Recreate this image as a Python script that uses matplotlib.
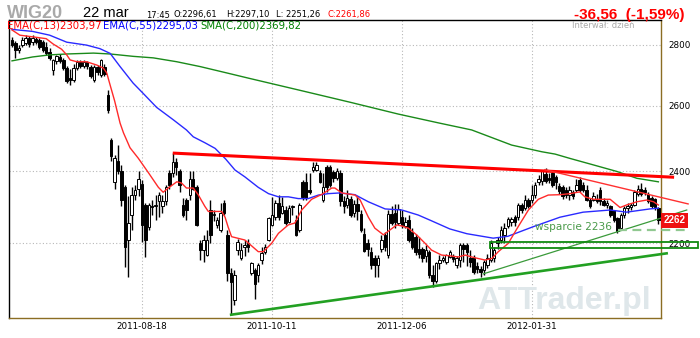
import matplotlib
matplotlib.use("Agg")
import matplotlib.pyplot as plt
import matplotlib.transforms as mtransforms
from matplotlib.patches import Rectangle
from matplotlib.ticker import NullLocator
import pandas as pd

# --- dane ---
holidays = ["2011-08-15", "2011-11-01", "2011-11-11", "2011-12-26", "2012-01-06"]
dates = pd.bdate_range("2011-06-24", "2012-03-22", freq="C", holidays=holidays)

opens = [2815, 2805, 2781, 2798, 2805, 2822, 2808, 2818, 2815, 2808,
         2791, 2775, 2715, 2745, 2758, 2748, 2721, 2690, 2682, 2721,
         2741, 2728, 2741, 2725, 2682, 2725, 2698, 2725, 2633, 2493,
         2370, 2430, 2400, 2354, 2208, 2276, 2332, 2350, 2364, 2304,
         2243, 2300, 2300, 2315, 2300, 2315, 2396, 2396, 2428, 2400,
         2304, 2318, 2332, 2378, 2354, 2200, 2181, 2168, 2290, 2275,
         2249, 2235, 2310, 2222, 2122, 2053, 2181, 2160, 2190, 2200,
         2120, 2129, 2116, 2155, 2176, 2208, 2249, 2270, 2310, 2283,
         2290, 2258, 2297, 2262, 2235, 2370, 2368, 2346, 2404, 2404,
         2396, 2318, 2412, 2412, 2398, 2382, 2396, 2315, 2304, 2322,
         2283, 2308, 2280, 2225, 2200, 2176, 2160, 2142, 2185, 2222,
         2168, 2280, 2283, 2255, 2270, 2245, 2262, 2230, 2215, 2185,
         2185, 2165, 2176, 2116, 2100, 2146, 2155, 2150, 2163, 2165,
         2142, 2155, 2195, 2195, 2160, 2160, 2140, 2132, 2129, 2142,
         2155, 2160, 2200, 2208, 2222, 2245, 2258, 2270, 2270, 2304,
         2295, 2318, 2318, 2332, 2368, 2372, 2392, 2382, 2396, 2385,
         2357, 2354, 2346, 2332, 2340, 2346, 2375, 2361, 2346, 2318,
         2318, 2322, 2346, 2315, 2304, 2300, 2290, 2268, 2240, 2276,
         2295, 2298, 2304, 2335, 2350, 2346, 2335, 2325, 2322, 2296.61]

highs = [2825, 2812, 2798, 2825, 2832, 2829, 2832, 2825, 2822, 2815,
         2808, 2788, 2751, 2765, 2768, 2755, 2728, 2718, 2735, 2748,
         2748, 2748, 2745, 2731, 2731, 2731, 2751, 2735, 2650, 2500,
         2448, 2478, 2420, 2360, 2330, 2354, 2361, 2400, 2375, 2310,
         2310, 2318, 2332, 2340, 2332, 2361, 2404, 2454, 2440, 2407,
         2325, 2325, 2400, 2400, 2361, 2208, 2222, 2235, 2318, 2290,
         2270, 2310, 2318, 2235, 2135, 2129, 2210, 2200, 2208, 2210,
         2150, 2135, 2146, 2190, 2198, 2272, 2326, 2318, 2332, 2326,
         2300, 2304, 2304, 2276, 2310, 2375, 2396, 2396, 2428, 2428,
         2404, 2396, 2419, 2419, 2404, 2410, 2404, 2330, 2346, 2330,
         2318, 2330, 2290, 2240, 2210, 2190, 2168, 2168, 2222, 2230,
         2290, 2300, 2308, 2308, 2290, 2270, 2276, 2240, 2225, 2215,
         2190, 2195, 2181, 2142, 2150, 2168, 2165, 2172, 2181, 2172,
         2165, 2200, 2200, 2200, 2181, 2168, 2150, 2140, 2155, 2172,
         2208, 2190, 2215, 2245, 2255, 2272, 2272, 2276, 2310, 2310,
         2332, 2325, 2361, 2370, 2390, 2404, 2410, 2395, 2404, 2390,
         2365, 2361, 2354, 2357, 2346, 2378, 2385, 2368, 2361, 2325,
         2340, 2335, 2354, 2325, 2318, 2304, 2290, 2272, 2283, 2300,
         2310, 2310, 2346, 2361, 2365, 2354, 2340, 2330, 2325, 2297.10]

lows = [2791, 2755, 2771, 2791, 2798, 2791, 2798, 2802, 2785, 2775,
        2765, 2748, 2698, 2735, 2738, 2715, 2672, 2665, 2675, 2715,
        2721, 2721, 2718, 2688, 2675, 2698, 2692, 2695, 2578, 2430,
        2350, 2392, 2300, 2137, 2110, 2235, 2318, 2330, 2203, 2163,
        2235, 2276, 2262, 2270, 2283, 2304, 2350, 2385, 2390, 2340,
        2270, 2262, 2318, 2346, 2245, 2155, 2150, 2165, 2200, 2260,
        2240, 2230, 2276, 2100, 2016, 2040, 2168, 2155, 2165, 2175,
        2116, 2055, 2098, 2145, 2172, 2205, 2245, 2262, 2262, 2280,
        2249, 2255, 2276, 2220, 2230, 2318, 2318, 2335, 2398, 2400,
        2365, 2312, 2340, 2355, 2370, 2375, 2300, 2283, 2295, 2270,
        2270, 2262, 2230, 2175, 2165, 2132, 2112, 2110, 2175, 2180,
        2160, 2250, 2240, 2250, 2240, 2240, 2203, 2185, 2168, 2160,
        2150, 2150, 2108, 2086, 2095, 2132, 2150, 2145, 2160, 2150,
        2135, 2137, 2150, 2140, 2137, 2118, 2120, 2112, 2116, 2135,
        2150, 2150, 2185, 2200, 2200, 2240, 2245, 2245, 2262, 2283,
        2290, 2295, 2310, 2325, 2361, 2361, 2365, 2365, 2355, 2350,
        2335, 2320, 2325, 2318, 2322, 2340, 2340, 2340, 2315, 2295,
        2315, 2310, 2304, 2300, 2295, 2270, 2258, 2228, 2240, 2268,
        2283, 2290, 2300, 2330, 2330, 2332, 2310, 2295, 2290, 2251.26]

closes = [2798, 2781, 2788, 2815, 2822, 2802, 2822, 2808, 2791, 2781,
          2770, 2755, 2748, 2760, 2745, 2721, 2678, 2682, 2721, 2741,
          2728, 2741, 2728, 2695, 2725, 2708, 2748, 2702, 2586, 2445,
          2440, 2400, 2318, 2190, 2255, 2332, 2346, 2378, 2249, 2208,
          2304, 2297, 2304, 2332, 2315, 2354, 2361, 2428, 2412, 2361,
          2276, 2290, 2378, 2350, 2249, 2181, 2208, 2208, 2222, 2280,
          2262, 2283, 2283, 2122, 2097, 2116, 2203, 2181, 2195, 2190,
          2146, 2093, 2142, 2173, 2190, 2268, 2276, 2310, 2270, 2300,
          2255, 2295, 2300, 2222, 2304, 2326, 2325, 2340, 2412, 2419,
          2370, 2354, 2354, 2361, 2382, 2400, 2315, 2300, 2325, 2276,
          2308, 2286, 2235, 2178, 2185, 2142, 2142, 2160, 2208, 2190,
          2280, 2255, 2258, 2293, 2250, 2258, 2208, 2190, 2176, 2172,
          2160, 2181, 2116, 2100, 2146, 2155, 2160, 2168, 2176, 2158,
          2160, 2195, 2185, 2176, 2150, 2125, 2132, 2125, 2150, 2160,
          2200, 2181, 2208, 2235, 2240, 2265, 2265, 2258, 2304, 2290,
          2318, 2300, 2332, 2361, 2378, 2400, 2372, 2375, 2361, 2370,
          2343, 2329, 2332, 2346, 2330, 2361, 2346, 2346, 2318, 2300,
          2329, 2315, 2315, 2304, 2310, 2276, 2262, 2232, 2276, 2295,
          2300, 2304, 2340, 2350, 2335, 2340, 2315, 2300, 2298.42, 2261.86]

# srednie (punkty: numer sesji, wartosc)
ema13_x = [0, 2.3, 6.2, 10, 12, 14.5, 16, 17, 19, 21.8, 24.8, 26.7, 27.7, 28.7, 30,
           31.6, 32.6, 34.5, 36.9, 39.9, 42.8, 44.2, 45.7, 48.2, 49.6, 51, 53, 54.5,
           56.4, 57.4, 61.3, 62.3, 63.2, 64.2, 68.1, 72, 73.5, 75.9, 77.9, 80.8, 82.7,
           84.7, 87.6, 90.6, 93.5, 94.4, 96.4, 100.3, 101.8, 104.2, 106.1, 108.6,
           110.5, 112.5, 114, 115.9, 118.3, 120.8, 122.7, 125.6, 128, 130.5, 132.5,
           134.4, 136.3, 138.3, 140.3, 142.2, 145.1, 148, 151, 153.9, 156.8, 160.2,
           163.2, 166, 167.5, 170, 174.9, 177.8, 179.7, 182.7, 185.6, 187.6, 189]
ema13_y = [2850, 2832, 2826, 2820, 2802, 2784, 2765, 2748, 2742, 2742, 2731, 2721, 2705,
           2665, 2615, 2545, 2515, 2470, 2439, 2396, 2354, 2340, 2352, 2370, 2366, 2352,
           2352, 2332, 2300, 2286, 2286, 2270, 2243, 2217, 2208, 2177, 2177, 2199, 2226,
           2249, 2254, 2290, 2320, 2334, 2352, 2352, 2338, 2332, 2318, 2270, 2240, 2222,
           2235, 2249, 2246, 2240, 2222, 2199, 2181, 2168, 2166, 2163, 2168, 2163, 2159,
           2155, 2159, 2177, 2199, 2244, 2290, 2320, 2332, 2333, 2336, 2341, 2327, 2320,
           2320, 2297, 2304, 2313, 2318, 2313, 2303.97]

ema55_x = [0, 6, 11, 16, 21.8, 25.7, 28.7, 31.6, 35.4, 38.4, 42.3, 47.2, 51, 53, 56.4,
           59.4, 62.5, 65.2, 68.1, 72, 75, 77.9, 80.8, 83.7, 86.6, 89.6, 92.5, 95.9,
           100.3, 104.2, 109.1, 114, 118.8, 122.7, 128, 133, 140.7, 145, 152.4, 160.2,
           167, 174.9, 179.7, 186.5, 189]
ema55_y = [2852, 2845, 2832, 2808, 2798, 2786, 2770, 2726, 2672, 2638, 2594, 2555, 2524,
           2503, 2485, 2468, 2436, 2404, 2384, 2354, 2336, 2327, 2327, 2322, 2322, 2332,
           2336, 2338, 2333, 2313, 2293, 2290, 2276, 2260, 2238, 2225, 2213, 2218, 2244,
           2270, 2284, 2290, 2284, 2293, 2295.03]

sma200_x = [0, 6, 11, 16, 23.8, 28.7, 35.5, 41.3, 48.2, 55, 62.8, 69.1, 84, 99, 113, 125,
            134.4, 146.1, 154.9, 158.8, 163.2, 170, 176.8, 182.7, 189]
sma200_y = [2745, 2758, 2765, 2768, 2771, 2768, 2760, 2755, 2742, 2726, 2705, 2688, 2649,
            2610, 2573, 2545, 2524, 2478, 2458, 2451, 2438, 2419, 2400, 2380, 2369.82]

# linie trendu narysowane na wykresie (sesja, poziom)
opor_x, opor_y = [47, 193.6], [2454, 2383]
opor2_x, opor2_y = [155.8, 197.7], [2405, 2307]
wsparcie_x, wsparcie_y = [63.7, 191.8], [2016, 2173]
wsparcie2_x, wsparcie2_y = [137.8, 197.3], [2119, 2290]
strefa_x, strefa_y = [139.8, 200.6], [2187, 2203]
wsparcie_2236 = 2236
wsparcie_2236_x = [177.2, 198.2]

tick_dates = ["2011-08-18", "2011-10-11", "2011-12-06", "2012-01-31"]
y_ticks = [2200, 2400, 2600, 2800]

# --- rysowanie ---
W, H = 700, 338
fig = plt.figure(figsize=(W / 100, H / 100), dpi=100)
ax = fig.add_axes([9 / W, 20 / H, 652 / W, 298 / H])
ax.set_yscale("log")
ax.set_xlim(-0.88, 189.77)
ax.set_ylim(2008.4, 2884.7)

n = len(closes)
xs = list(range(n))
ax.vlines(xs, lows, highs, color="black", linewidth=1.0, zorder=3)
bottoms = [min(o, c) for o, c in zip(opens, closes)]
heights = [max(abs(c - o), 1.5) for o, c in zip(opens, closes)]
colors = ["white" if c >= o else "black" for o, c in zip(opens, closes)]
ax.bar(xs, heights, bottom=bottoms, width=0.72, color=colors, edgecolor="black",
       linewidth=0.7, zorder=3)

ax.plot(sma200_x, sma200_y, color="#1a8a1a", linewidth=1.0, zorder=4)
ax.plot(ema55_x, ema55_y, color="#2a2aff", linewidth=1.0, zorder=4)
ax.plot(ema13_x, ema13_y, color="#ff2a2a", linewidth=1.0, zorder=4)

ax.plot(opor_x, opor_y, color="#ff0000", linewidth=2.2, zorder=5, clip_on=False,
        solid_capstyle="butt")
ax.plot(opor2_x, opor2_y, color="#ff3030", linewidth=1.0, zorder=5, clip_on=False)
ax.plot(wsparcie_x, wsparcie_y, color="#22a022", linewidth=1.9, zorder=5, clip_on=False,
        solid_capstyle="butt")
ax.plot(wsparcie2_x, wsparcie2_y, color="#3a9a3a", linewidth=0.9, zorder=5, clip_on=False)
ax.add_patch(Rectangle((strefa_x[0], strefa_y[0]), strefa_x[1] - strefa_x[0],
                       strefa_y[1] - strefa_y[0], fill=False, edgecolor="#108a10",
                       linewidth=1.3, zorder=5, clip_on=False))
ax.plot(wsparcie_2236_x, [wsparcie_2236] * 2, color="#90c890", linewidth=1.6,
        linestyle=(0, (4, 2.5)), zorder=5, clip_on=False)
ax.text(152.9, 2235, "wsparcie 2236", color="#4a9a4a", fontsize=7.6, va="baseline",
        ha="left", zorder=6)

# znak wodny
ax.text(0.718, 0.008, "ATTrader.pl", transform=ax.transAxes, fontsize=23,
        family="Liberation Sans", fontweight="bold", color="#dfe7ea", ha="left",
        va="bottom", zorder=1)

# siatka i osie
ax.set_yticks(y_ticks)
ax.set_yticklabels([str(v) for v in y_ticks])
ax.yaxis.set_minor_locator(NullLocator())
ax.yaxis.tick_right()
tick_pos = [dates.get_loc(pd.Timestamp(d)) for d in tick_dates]
ax.set_xticks(tick_pos)
ax.set_xticklabels(tick_dates)
ax.tick_params(axis="both", length=0, labelsize=6.3)
ax.tick_params(axis="y", pad=5)
ax.tick_params(axis="x", pad=3)
ax.grid(True, color="#b8b8b8", linestyle=(0, (1, 2)), linewidth=0.8, zorder=0)
ax.set_axisbelow(True)
ax.spines["left"].set_color("black")
ax.spines["top"].set_color("black")
ax.spines["right"].set_color("#8b6d23")
ax.spines["bottom"].set_color("#8b6d23")
for s in ax.spines.values():
    s.set_linewidth(1.0)

# etykieta ostatniego kursu
trans = mtransforms.blended_transform_factory(ax.transAxes, ax.transData)
ax.text(1.004, closes[-1], f"{closes[-1]:.0f}", transform=trans, ha="left", va="center",
        color="white", fontsize=7, family="Liberation Sans", fontweight="bold",
        bbox=dict(boxstyle="square,pad=0.25", fc="#ee1111", ec="none"),
        zorder=7, clip_on=False)


def px(x, y):
    return x / W, 1 - y / H


# naglowek
fig.text(*px(7, 18), "WIG20", fontsize=13, family="Liberation Sans", fontweight="bold",
         color="#a9a9a9", va="baseline")
fig.text(*px(83, 17), "22 mar", fontsize=10.5, family="Liberation Sans", color="black",
         va="baseline")
for x0, s in [(145.7, "17:45"), (174, "O:2296,61"), (226, "H:2297,10"), (276, "L: 2251,26")]:
    fig.text(*px(x0, 17.5), s, fontsize=6, color="black", va="baseline")
fig.text(*px(328, 17.5), "C:2261,86", fontsize=6, color="#ff0000", va="baseline")
fig.text(*px(685, 18.5), "-36,56  (-1,59%)", fontsize=11, family="Liberation Sans",
         fontweight="bold", color="#ff0000", ha="right", va="baseline")
fig.text(*px(572, 28.5), "Interwał: dzień", fontsize=6, color="#a9a9a9", va="baseline")

fig.text(*px(7, 28.5), "EMA(C,13)2303,97", fontsize=7.3, color="#ff0000", va="baseline")
fig.text(*px(103, 28.5), "EMA(C,55)2295,03", fontsize=7.3, color="#0000ff", va="baseline")
fig.text(*px(200, 28.5), "SMA(C,200)2369,82", fontsize=7.3, color="#008000", va="baseline")

fig.savefig("out.png", dpi=100)
